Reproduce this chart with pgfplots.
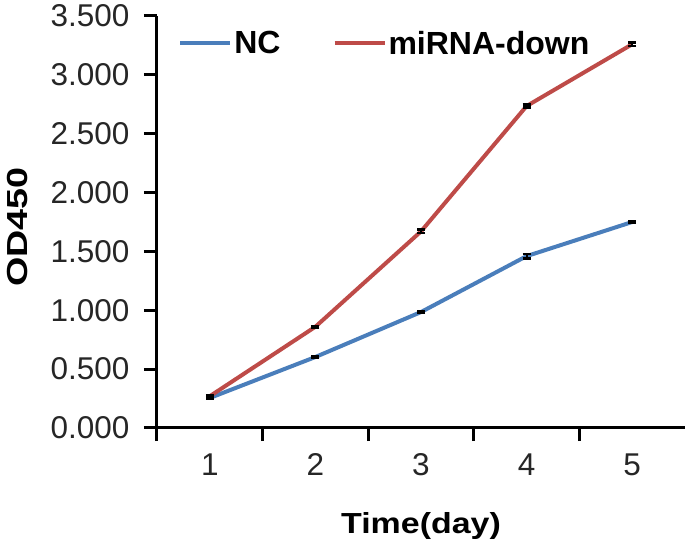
\documentclass[border=0pt]{standalone}
\usepackage{pgfplots}
\pgfplotsset{compat=1.18}
\usepackage{fontspec}
\setmainfont{Liberation Sans}
\definecolor{ncblue}{RGB}{74,126,187}
\definecolor{mired}{RGB}{190,75,72}
\begin{document}
\begin{tikzpicture}
\begin{axis}[
  at={(0,0)}, anchor=south west,
  scale only axis,
  width=528pt, height=412pt,
  xmin=0.5, xmax=5.5, ymin=0, ymax=3.5,
  axis x line=bottom, axis y line=left,
  axis line style={line width=3pt,-},
  tick style={line width=3pt,black},
  tick align=outside,
  xtick={1,2,3,4,5},
  major x tick style={draw=none},
  minor xtick={0.5,1.5,2.5,3.5,4.5},
  minor tick length=13pt,
  major tick length=13pt,
  ytick={0,0.5,...,3.5},
  yticklabel={\pgfmathprintnumber[fixed,fixed zerofill,precision=3]{\tick}},
  /pgf/number format/assume math mode=true,
  ticklabel style={font=\fontsize{31.5}{36}\selectfont, text=black!85},
  yticklabel style={xshift=-11pt},
  xticklabel style={anchor=base, yshift=-34pt},
  xlabel={\scalebox{1.17}[1]{\textbf{Time(day)}}},
  ylabel={\scalebox{1.3}[1]{\textbf{OD450}}},
  xlabel style={font=\fontsize{29}{34}\selectfont, anchor=base, at={(rel axis cs:0.5,0)}, yshift=-106pt},
  ylabel style={font=\fontsize{29}{34}\selectfont, anchor=base, at={(rel axis cs:0,0.488)}, yshift=129pt},
  legend style={draw=none, fill=none, at={(rel axis cs:0.04,0.934)}, anchor=west,
    font=\bfseries\fontsize{32}{36}\selectfont, inner sep=0pt,
    /tikz/every even column/.append style={column sep=50pt}},
  legend columns=2,
  legend image code/.code={\draw[#1, line width=4pt] (0pt,0pt) -- (50pt,0pt);},
  clip=false,
]
\addplot[ncblue, line width=4pt, mark=none] coordinates {(1,0.255) (2,0.603) (3,0.985) (4,1.46) (5,1.75)};
\addlegendentry{NC}
\addplot[mired, line width=4pt, mark=none] coordinates {(1,0.27) (2,0.86) (3,1.67) (4,2.735) (5,3.26)};
\addlegendentry{miRNA-down}
\addplot[draw=none, forget plot, error bars/.cd, y dir=both, y explicit,
  error bar style={black, line width=2pt}, error mark options={black, line width=2.5pt, mark size=4pt, rotate=90}]
  coordinates {(1,0.255) +- (0,0.008) (2,0.603) +- (0,0.006) (3,0.985) +- (0,0.008) (4,1.46) +- (0,0.02) (5,1.75) +- (0,0.008)};
\addplot[draw=none, forget plot, error bars/.cd, y dir=both, y explicit,
  error bar style={black, line width=2pt}, error mark options={black, line width=2.5pt, mark size=4pt, rotate=90}]
  coordinates {(1,0.27) +- (0,0.008) (2,0.86) +- (0,0.008) (3,1.67) +- (0,0.015) (4,2.735) +- (0,0.012) (5,3.26) +- (0,0.015)};
\end{axis}
\pgfresetboundingbox
\path (-157pt,-117pt) rectangle (528pt,428pt);
\end{tikzpicture}
\end{document}
